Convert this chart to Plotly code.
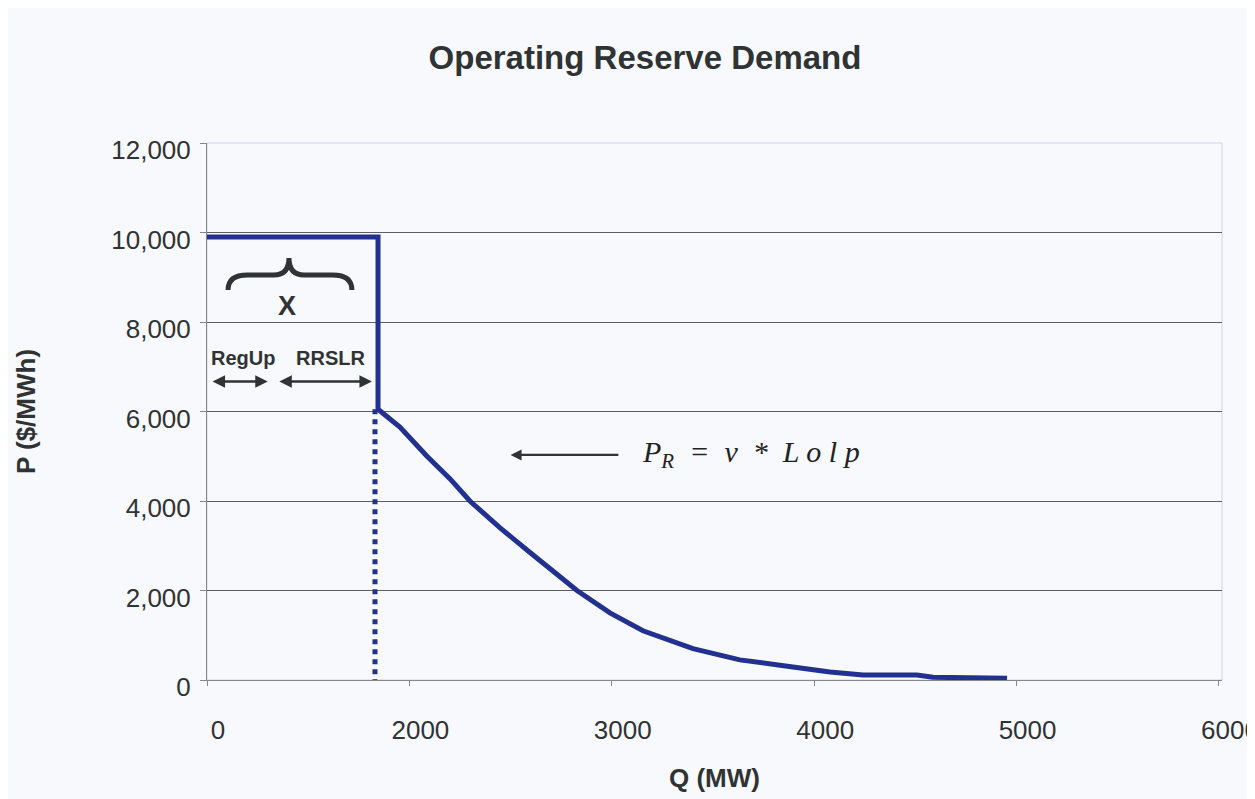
import plotly.graph_objects as go

# x is stored in axis position units: the printed axis labels are spaced evenly
# (0, 2000, 3000, 4000, 5000, 6000), so each label sits at one unit step.
TICK_POS = [0, 1, 2, 3, 4, 5]
TICK_TEXT = ["0", "2000", "3000", "4000", "5000", "6000"]
Y_TICKS = [0, 2000, 4000, 6000, 8000, 10000, 12000]

# ORDC curve: price cap step, then the v * Lolp tail
curve_pos = [0.0, 0.845, 0.845, 0.953, 1.087, 1.200, 1.299, 1.448, 1.596, 1.719,
             1.828, 1.991, 2.154, 2.401, 2.633, 2.831, 3.078, 3.241, 3.508, 3.587, 3.953]
curve_price = [9900, 9900, 6050, 5650, 5000, 4500, 4000, 3400, 2850, 2400,
               2000, 1500, 1100, 700, 450, 330, 180, 110, 110, 60, 40]

# dotted drop line from the curve knee to the axis
drop_pos = [0.83, 0.83]
drop_price = [6050, 0]

BLUE = "#22318f"
INK = "#2f3333"
FONT = "Liberation Sans"

# page body has an 8px margin, so the figure is 8px smaller than the window
W, H = 1247, 791

fig = go.Figure()

fig.add_trace(go.Scatter(
    x=drop_pos, y=drop_price, mode="lines",
    line=dict(color=BLUE, width=5, dash="dot"),
    showlegend=False, hoverinfo="skip",
))
fig.add_trace(go.Scatter(
    x=curve_pos, y=curve_price, mode="lines",
    line=dict(color=BLUE, width=5),
    showlegend=False, name="ORDC",
))

# curly brace over RegUp + RRSLR
brace = ("M 0.104,8715 Q 0.104,9050 0.20,9050 L 0.33,9050 "
         "Q 0.405,9050 0.405,9430 Q 0.405,9050 0.48,9050 L 0.62,9050 "
         "Q 0.716,9050 0.716,8715")
fig.add_shape(type="path", path=brace, xref="x", yref="y",
              line=dict(color=INK, width=5))

annotations = [
    dict(x=0.395, y=8350, text="<b>X</b>", showarrow=False,
         font=dict(family=FONT, size=27, color=INK)),
    dict(x=0.18, y=7200, text="<b>RegUp</b>", showarrow=False,
         font=dict(family=FONT, size=20, color=INK)),
    dict(x=0.61, y=7200, text="<b>RRSLR</b>", showarrow=False,
         font=dict(family=FONT, size=20, color=INK)),
    # double arrows under the labels
    dict(x=0.30, y=6670, ax=0.02, ay=6670, xref="x", yref="y", axref="x", ayref="y",
         text="", showarrow=True, arrowhead=2, arrowside="end+start",
         arrowsize=1, arrowwidth=2.5, arrowcolor=INK),
    dict(x=0.815, y=6670, ax=0.35, ay=6670, xref="x", yref="y", axref="x", ayref="y",
         text="", showarrow=True, arrowhead=2, arrowside="end+start",
         arrowsize=1, arrowwidth=2.5, arrowcolor=INK),
    # formula arrow
    dict(x=1.50, y=5030, ax=2.04, ay=5030, xref="x", yref="y", axref="x", ayref="y",
         text="", showarrow=True, arrowhead=2, arrowsize=1, arrowwidth=2.2,
         arrowcolor=INK),
    dict(x=2.14, y=5050, xanchor="left", showarrow=False,
         text="<i>P<sub>R</sub>  =  v  *  L o l p</i>",
         font=dict(family="Liberation Serif", size=30, color="#222")),
]

fig.update_layout(
    width=W, height=H,
    paper_bgcolor="#f8f9fc",
    plot_bgcolor="#f8f9fc",
    margin=dict(l=199, r=33, t=135, b=119, autoexpand=False),
    title=dict(text="<b>Operating Reserve Demand</b>", x=637 / W, xref="container",
               y=1 - 49 / H, yanchor="middle", xanchor="center",
               font=dict(family=FONT, size=33, color=INK)),
    font=dict(family=FONT, color=INK),
    annotations=annotations,
    xaxis=dict(
        range=[0, 5.015], tickvals=TICK_POS, ticktext=TICK_TEXT,
        showgrid=False, zeroline=False, automargin=False,
        showline=True, linecolor="#888", linewidth=1,
        ticks="outside", ticklen=5, tickcolor="#888",
        tickfont=dict(size=26, color=INK), ticklabelshift=11, ticklabelstandoff=22,
        ticklabeloverflow="allow",
        title=dict(text="<b>Q (MW)</b>", font=dict(size=26, color=INK), standoff=24),
    ),
    yaxis=dict(
        range=[0, 12000], tickvals=Y_TICKS, tickformat=",d",
        showgrid=True, gridcolor="#5e5e5e", gridwidth=1, zeroline=False,
        automargin=False,
        showline=True, linecolor="#888", linewidth=1,
        ticks="outside", ticklen=6, tickcolor="#888",
        tickfont=dict(size=26, color=INK), ticklabelstandoff=4, ticklabelshift=7,
        ticklabeloverflow="allow",
        title=dict(text="<b>P ($/MWh)</b>", font=dict(size=26, color=INK), standoff=68),
    ),
)

# faint frame along the top and right of the plot area
fig.add_shape(type="rect", xref="paper", yref="paper", x0=0, y0=0, x1=1, y1=1,
              line=dict(color="#cdd4e6", width=1), layer="below")

fig.write_html("out.html")
